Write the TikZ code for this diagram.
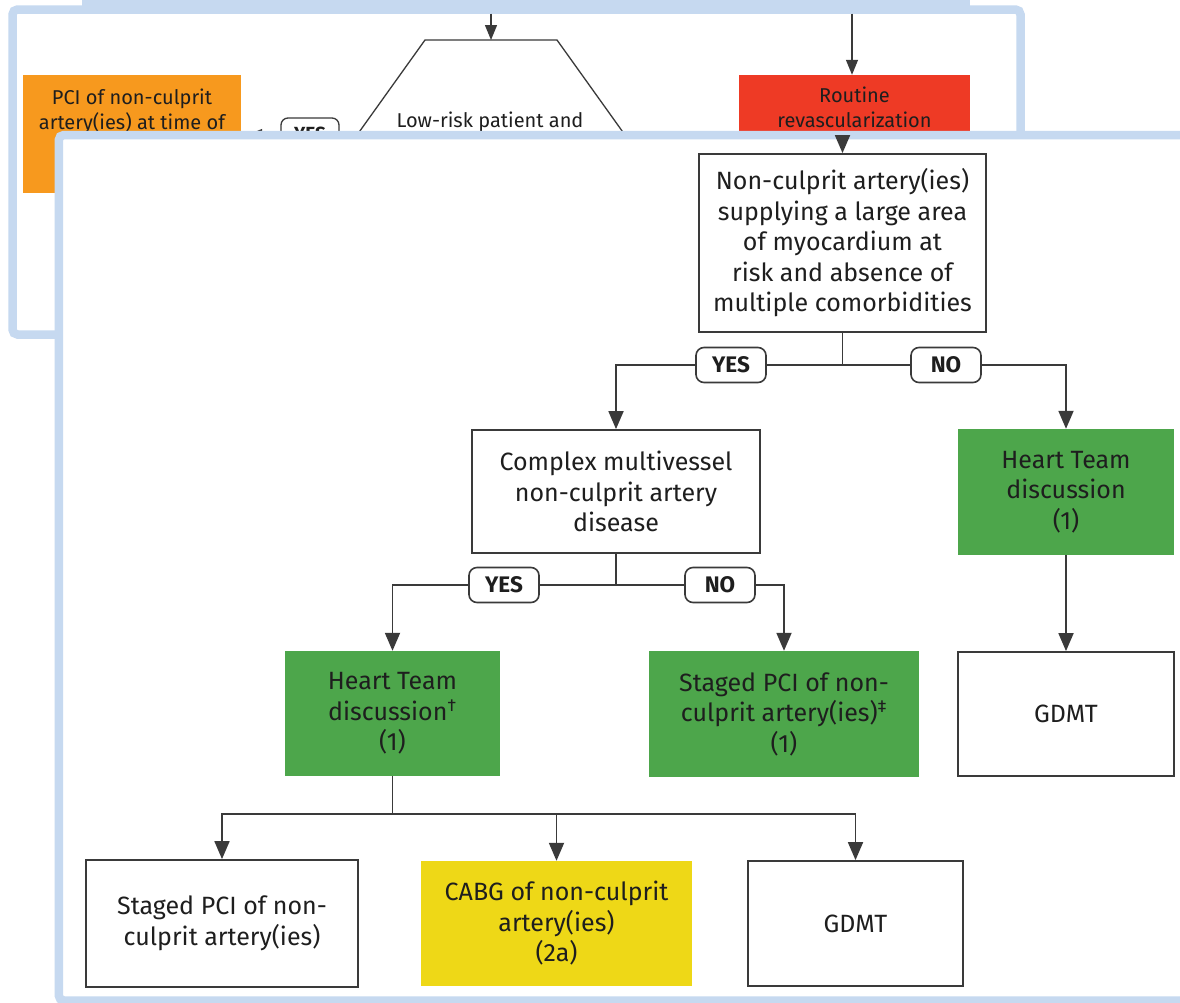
\documentclass[tikz,border=0pt]{standalone}
\usepackage{fontspec}
\setmainfont{Fira Sans}
\usetikzlibrary{arrows.meta}
\definecolor{frameblue}{HTML}{C6D9F0}
\definecolor{boxgreen}{HTML}{4DA64B}
\definecolor{boxorange}{HTML}{F7991E}
\definecolor{boxred}{HTML}{EE3A25}
\definecolor{boxyellow}{HTML}{EED817}
\definecolor{ink}{HTML}{3A3A3A}
\definecolor{txt}{HTML}{1E1E1E}
\newcommand\bodyfont{\fontsize{25}{30.5}\selectfont}
\newcommand\smallbody{\fontsize{20}{25}\selectfont}
\begin{document}
\begin{tikzpicture}[x=1pt,y=-1pt,
  every node/.style={inner sep=0pt, align=center, text=txt},
  flowbox/.style={draw=ink, line width=1.8pt, fill=white, font=\bodyfont},
  fillbox/.style={fill=#1, font=\bodyfont},
  answer/.style={draw=ink, line width=1.6pt, fill=white, rounded corners=8pt,
    minimum width=70pt, minimum height=35pt, font=\fontsize{22.5}{26}\selectfont\bfseries},
  smallanswer/.style={draw=ink, line width=1.3pt, fill=white, rounded corners=7pt,
    minimum width=58pt, minimum height=32pt, font=\fontsize{19}{22}\selectfont\bfseries},
  conn/.style={draw=ink, line width=1.8pt},
  arr/.style={conn, -{Triangle[length=18pt,width=15pt]}},
  smallarr/.style={draw=ink, line width=1.3pt, -{Triangle[length=15pt,width=12pt]}},
  panel/.style={draw=frameblue, line width=8.5pt, fill=white, rounded corners=5pt}
]
\useasboundingbox (0,0) rectangle (1180,1002);
\clip (0,0) rectangle (1180,1002);
\fill[white] (0,0) rectangle (1180,1002);

% ---- back panel ----
\path[panel] (12.5,9.5) rectangle (1020.5,334.5);
\fill[frameblue] (82,0) rectangle (970,13.5);

% trapezoid decision
\coordinate (trapTop) at (491,40);
\coordinate (backIn) at (491,13.5);
\draw[ink, line width=1.3pt] (310.5,200) -- (425,40) -- (557,40) -- (671.5,200);
\node[font=\smallbody] (lowrisk) at (490,122) {Low-risk patient and};
\draw[smallarr] (backIn) -- (trapTop);

% immediate PCI box
\node[fillbox=boxorange, minimum width=218pt, minimum height=118pt] (pci) at (132,134) {};
\node[font=\smallbody] (pcitext) at (132,111) {PCI of non-culprit\\artery(ies) at time of};
\coordinate (trapL) at (357,135);
\draw[smallarr, shorten >=6pt] (trapL) -- (pci.east |- trapL);
\node[smallanswer] (yesBack) at (310,134) {YES};

% routine revascularization box
\node[fillbox=boxred, minimum width=231pt, minimum height=120pt] (routine) at (854.5,135) {};
\node[font=\smallbody] (routinetext) at (854.5,107) {Routine\\revascularization};
\coordinate (redIn) at (852,13.5);
\draw[smallarr] (redIn) -- (redIn |- routine.north);

% ---- front panel ----
\path[panel] (58.8,135) rectangle (1210,1000.5);

\node[flowbox, minimum width=287pt, minimum height=178pt] (A) at (842.5,243)
  {Non-culprit artery(ies)\\supplying a large area\\of myocardium at\\risk and absence of\\multiple comorbidities};
\coordinate (frontIn) at (842.5,139);
\draw[arr] (frontIn) -- (A.north);

\node[flowbox, minimum width=288pt, minimum height=123pt] (B) at (616,491.5)
  {Complex multivessel\\non-culprit artery\\disease};
\node[fillbox=boxgreen, minimum width=216pt, minimum height=126pt] (C) at (1066,492)
  {Heart Team\\discussion\\(1)};
\node[flowbox, minimum width=216pt, minimum height=124pt] (D) at (1066,714)
  {GDMT};
\node[fillbox=boxgreen, minimum width=215pt, minimum height=125pt] (E) at (392.5,713.5)
  {Heart Team\\discussion\textsuperscript{†}\\(1)};
\node[fillbox=boxgreen, minimum width=270pt, minimum height=126pt] (F) at (784,714)
  {Staged PCI of non-\\culprit artery(ies)\textsuperscript{‡}\\(1)};
\node[flowbox, minimum width=272pt, minimum height=127pt] (G) at (222,923.5)
  {Staged PCI of non-\\culprit artery(ies)};
\node[fillbox=boxyellow, minimum width=271pt, minimum height=125pt] (H) at (556.5,923.5)
  {CABG of non-culprit\\artery(ies)\\(2a)};
\node[flowbox, minimum width=215pt, minimum height=125pt] (I) at (855.5,923.5)
  {GDMT};

% branch after A
\coordinate (jA) at (842.5,365);
\draw[conn] (A.south) -- (jA);
\draw[arr] (jA) -| (B.north);
\draw[arr] (jA) -| (C.north);
\node[answer] (yesA) at (731,365) {YES};
\node[answer] (noA) at (946,365) {NO};

% branch after B
\coordinate (jB) at (616,585);
\draw[conn] (B.south) -- (jB);
\draw[arr] (jB) -| (E.north);
\draw[arr] (jB) -| (F.north);
\node[answer] (yesB) at (504,585) {YES};
\node[answer] (noB) at (720,585) {NO};

% Heart Team to GDMT
\draw[arr] (C.south) -- (D.north);

% outcomes of Heart Team discussion
\coordinate (jE) at (392.5,814);
\draw[conn] (E.south) -- (jE);
\draw[arr] (jE) -| (G.north);
\draw[arr] (jE) -| (H.north);
\draw[arr] (jE) -| (I.north);
\end{tikzpicture}
\end{document}
